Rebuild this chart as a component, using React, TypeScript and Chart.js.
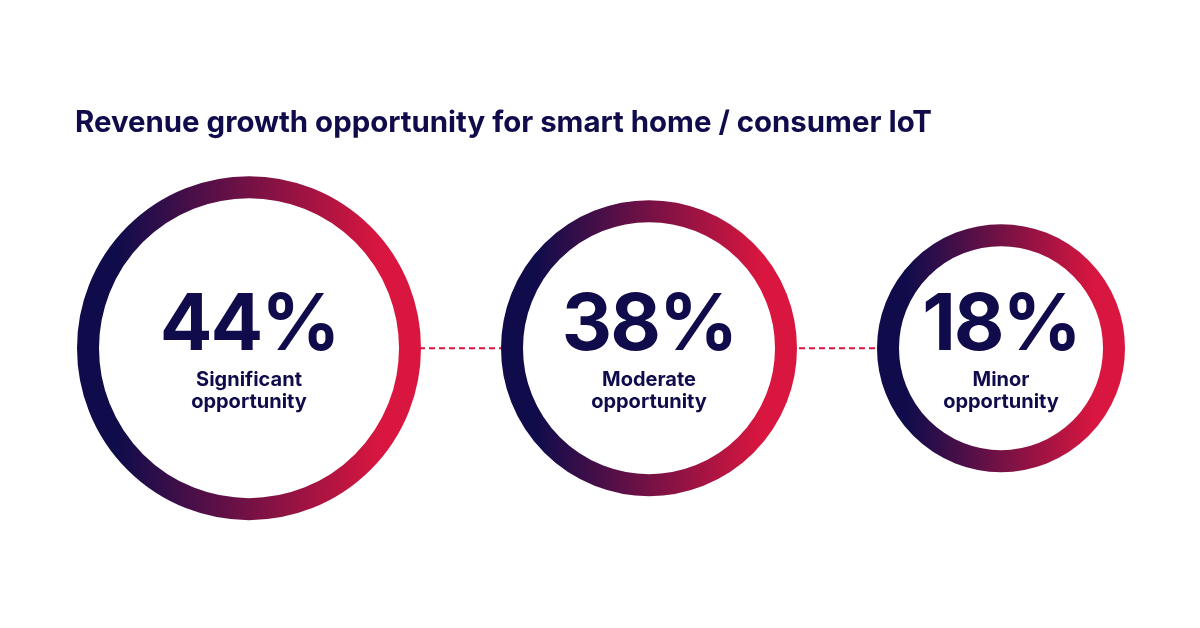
import React, { useEffect, useRef } from "react";
import { Chart, registerables } from "chart.js";

Chart.register(...registerables);

// ---- data ----
const TITLE = "Revenue growth opportunity for smart home / consumer IoT";
const VALUES = [44, 38, 18];
const LABELS: string[][] = [
  ["Significant", "opportunity"],
  ["Moderate", "opportunity"],
  ["Minor", "opportunity"],
];

// ---- styles / layout ----
const RADII = [172, 148, 124]; // outer radius of each ring (px)
const RING = 22; // ring thickness
const LEFT = 77; // left edge of first ring
const GAP = 80; // gap between rings
const NAVY = "#100c4b";
const CRIMSON = "#d9163f";
const FONT = "Inter, 'DejaVu Sans', sans-serif";

function centers(): number[] {
  const out: number[] = [];
  let x = LEFT;
  RADII.forEach((r) => {
    x += r;
    out.push(x);
    x += r + GAP;
  });
  return out;
}

export default function App() {
  const ref = useRef<HTMLCanvasElement | null>(null);

  useEffect(() => {
    document.body.style.margin = "0";
    const canvas = ref.current!;
    const cx = centers();
    const points = VALUES.map((v, i) => ({ x: cx[i], y: 0, v }));

    const textPlugin = {
      id: "ringText",
      afterDatasetsDraw(chart: any) {
        const ctx = chart.ctx as CanvasRenderingContext2D;
        const meta = chart.getDatasetMeta(0);
        ctx.save();
        ctx.fillStyle = NAVY;
        ctx.textAlign = "center";
        ctx.textBaseline = "alphabetic";
        meta.data.forEach((el: any, i: number) => {
          const x = el.x;
          const y = el.y;
          ctx.font = `700 78px ${FONT}`;
          (ctx as any).letterSpacing = "-2px";
          ctx.fillText(`${VALUES[i]}%`, x, y + 2);
          (ctx as any).letterSpacing = "0px";
          ctx.font = `700 20px ${FONT}`;
          LABELS[i].forEach((line, j) => {
            ctx.fillText(line, x, y + 38 + j * 22);
          });
        });
        ctx.restore();
      },
    };

    const chart = new Chart(canvas, {
      type: "scatter",
      data: {
        datasets: [
          {
            data: points,
            showLine: true,
            borderColor: CRIMSON,
            borderWidth: 2,
            borderDash: [6, 4],
            clip: false as any,
            pointStyle: "circle",
            pointRadius: (c: any) => RADII[c.dataIndex] - RING / 2,
            pointBorderWidth: RING,
            pointBackgroundColor: "#ffffff",
            pointBorderColor: (c: any) => {
              const ch = c.chart;
              const sx = ch.scales && ch.scales.x;
              if (!sx || c.dataIndex === undefined) return NAVY;
              const px = sx.getPixelForValue(cx[c.dataIndex]);
              if (!isFinite(px)) return NAVY;
              const r = RADII[c.dataIndex];
              const g = ch.ctx.createLinearGradient(px - r, 0, px + r, 0);
              g.addColorStop(0, NAVY);
              g.addColorStop(0.12, NAVY);
              g.addColorStop(0.88, CRIMSON);
              g.addColorStop(1, CRIMSON);
              return g;
            },
          } as any,
        ],
      },
      options: {
        animation: false,
        responsive: false,
        events: [],
        layout: { autoPadding: false, padding: { left: LEFT - 2, right: 0, top: 0, bottom: 92 } },
        plugins: {
          legend: { display: false },
          tooltip: { enabled: false },
          title: {
            display: true,
            text: TITLE,
            align: "start",
            color: NAVY,
            font: { family: FONT, size: 29.4, weight: "700" as any, lineHeight: 1.2 },
            padding: { top: 106, bottom: 19 },
          },
        },
        scales: {
          x: { type: "linear", min: LEFT - 2, max: 1200, display: false },
          y: { type: "linear", min: -1, max: 1, display: false },
        },
      },
      plugins: [textPlugin],
    });
    return () => chart.destroy();
  }, []);

  return (
    <div style={{ width: 1200, height: 628, position: "relative", background: "#fff" }}>
      <canvas ref={ref} width={1200} height={628} style={{ width: 1200, height: 628, display: "block" }} />
    </div>
  );
}
